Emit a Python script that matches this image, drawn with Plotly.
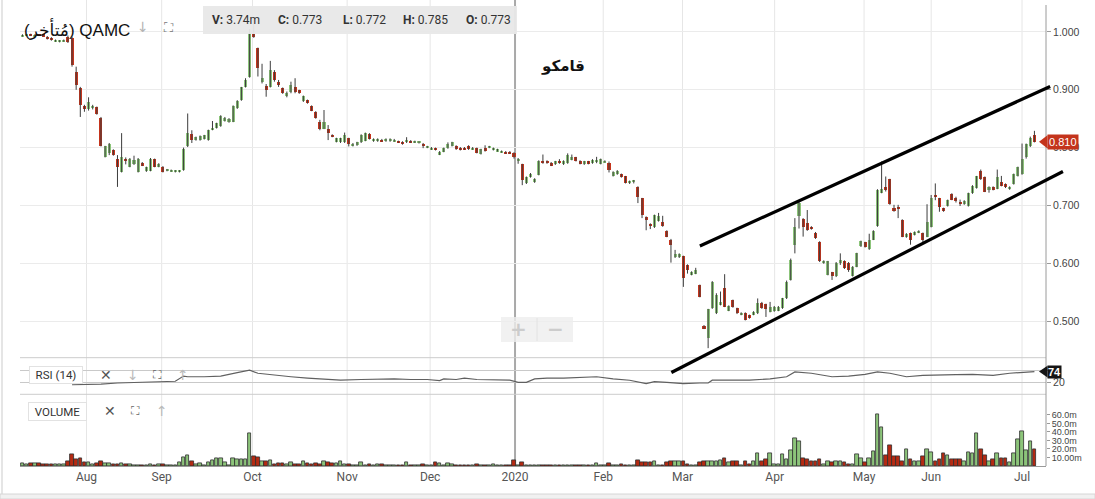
import plotly.graph_objects as go

W, H = 1095, 499

# ---------------- data ----------------
open_ = [
    0.993, 0.994, 0.996, 0.993, 0.995, 0.996, 0.992, 0.990, 0.984, 0.983,
    0.984, 0.992, 0.990, 0.931, 0.903, 0.872, 0.866, 0.868, 0.870, 0.852,
    0.784, 0.790, 0.796, 0.780, 0.758, 0.781, 0.767, 0.772, 0.758, 0.774,
    0.759, 0.760, 0.780, 0.767, 0.767, 0.760, 0.759, 0.758, 0.758, 0.761,
    0.803, 0.824, 0.813, 0.813, 0.815, 0.813, 0.831, 0.834, 0.837, 0.846,
    0.845, 0.845, 0.868, 0.882, 0.905, 0.923, 0.997, 0.972, 0.914, 0.906,
    0.905, 0.931, 0.914, 0.903, 0.889, 0.897, 0.905, 0.899, 0.880, 0.882,
    0.872, 0.862, 0.845, 0.833, 0.833, 0.822, 0.810, 0.809, 0.809, 0.816,
    0.803, 0.804, 0.809, 0.812, 0.824, 0.811, 0.811, 0.814, 0.811, 0.811,
    0.811, 0.811, 0.810, 0.809, 0.812, 0.809, 0.808, 0.807, 0.800, 0.797,
    0.799, 0.788, 0.793, 0.799, 0.803, 0.803, 0.800, 0.800, 0.802, 0.797,
    0.799, 0.789, 0.799, 0.800, 0.796, 0.794, 0.792, 0.793, 0.793, 0.790,
    0.776, 0.771, 0.738, 0.749, 0.740, 0.753, 0.777, 0.777, 0.774, 0.771,
    0.777, 0.771, 0.773, 0.779, 0.783, 0.777, 0.771, 0.776, 0.773, 0.776,
    0.772, 0.775, 0.773, 0.751, 0.754, 0.754, 0.750, 0.738, 0.741, 0.732,
    0.712, 0.680, 0.667, 0.662, 0.673, 0.672, 0.656, 0.641, 0.610, 0.610,
    0.612, 0.597, 0.580, 0.582, 0.562, 0.492, 0.470, 0.522, 0.513, 0.528,
    0.557, 0.518, 0.536, 0.522, 0.511, 0.514, 0.510, 0.511, 0.513, 0.532,
    0.529, 0.516, 0.517, 0.518, 0.522, 0.539, 0.571, 0.632, 0.681, 0.676,
    0.669, 0.663, 0.653, 0.637, 0.600, 0.580, 0.584, 0.577, 0.601, 0.604,
    0.601, 0.578, 0.594, 0.629, 0.636, 0.624, 0.641, 0.664, 0.722, 0.731,
    0.745, 0.696, 0.697, 0.675, 0.645, 0.652, 0.649, 0.653, 0.652, 0.646,
    0.663, 0.718, 0.712, 0.695, 0.699, 0.719, 0.712, 0.706, 0.702, 0.699,
    0.721, 0.730, 0.760, 0.749, 0.727, 0.732, 0.729, 0.741, 0.737, 0.728,
    0.737, 0.751, 0.754, 0.784, 0.802, 0.822,
]
close = [
    0.995, 0.995, 0.994, 0.995, 0.994, 0.993, 0.988, 0.986, 0.986, 0.985,
    0.986, 0.983, 0.943, 0.908, 0.874, 0.866, 0.879, 0.872, 0.858, 0.803,
    0.802, 0.806, 0.787, 0.767, 0.784, 0.777, 0.781, 0.779, 0.781, 0.769,
    0.766, 0.781, 0.767, 0.772, 0.758, 0.762, 0.761, 0.760, 0.760, 0.797,
    0.825, 0.814, 0.818, 0.820, 0.821, 0.830, 0.834, 0.842, 0.855, 0.852,
    0.850, 0.872, 0.881, 0.904, 0.917, 0.998, 0.992, 0.937, 0.920, 0.900,
    0.934, 0.917, 0.908, 0.894, 0.894, 0.908, 0.897, 0.894, 0.889, 0.877,
    0.864, 0.851, 0.833, 0.845, 0.825, 0.819, 0.816, 0.816, 0.822, 0.807,
    0.807, 0.809, 0.822, 0.825, 0.815, 0.815, 0.815, 0.811, 0.815, 0.815,
    0.814, 0.809, 0.806, 0.813, 0.809, 0.811, 0.810, 0.802, 0.802, 0.800,
    0.796, 0.793, 0.799, 0.807, 0.809, 0.797, 0.796, 0.797, 0.797, 0.800,
    0.791, 0.797, 0.794, 0.802, 0.799, 0.797, 0.794, 0.790, 0.790, 0.783,
    0.781, 0.744, 0.749, 0.755, 0.746, 0.777, 0.773, 0.773, 0.769, 0.776,
    0.773, 0.777, 0.787, 0.784, 0.777, 0.772, 0.776, 0.772, 0.779, 0.778,
    0.780, 0.777, 0.762, 0.758, 0.760, 0.749, 0.739, 0.742, 0.743, 0.715,
    0.683, 0.674, 0.665, 0.683, 0.682, 0.664, 0.646, 0.631, 0.616, 0.616,
    0.575, 0.588, 0.585, 0.589, 0.542, 0.487, 0.520, 0.568, 0.545, 0.533,
    0.525, 0.526, 0.524, 0.513, 0.514, 0.502, 0.505, 0.516, 0.532, 0.522,
    0.520, 0.525, 0.525, 0.525, 0.539, 0.568, 0.606, 0.663, 0.704, 0.663,
    0.657, 0.659, 0.643, 0.603, 0.604, 0.603, 0.577, 0.601, 0.605, 0.591,
    0.589, 0.594, 0.617, 0.638, 0.628, 0.640, 0.656, 0.727, 0.728, 0.727,
    0.702, 0.691, 0.695, 0.646, 0.651, 0.641, 0.654, 0.656, 0.641, 0.672,
    0.712, 0.714, 0.697, 0.692, 0.709, 0.710, 0.708, 0.702, 0.708, 0.721,
    0.734, 0.750, 0.745, 0.724, 0.732, 0.727, 0.749, 0.734, 0.731, 0.732,
    0.754, 0.766, 0.780, 0.806, 0.816, 0.810,
]
high = [
    0.996, 0.996, 0.997, 0.996, 0.996, 0.997, 0.993, 0.991, 0.987, 0.986,
    0.987, 0.994, 0.992, 0.940, 0.905, 0.874, 0.887, 0.874, 0.871, 0.853,
    0.803, 0.808, 0.797, 0.787, 0.825, 0.783, 0.782, 0.786, 0.782, 0.775,
    0.767, 0.782, 0.781, 0.773, 0.768, 0.763, 0.762, 0.761, 0.761, 0.800,
    0.859, 0.830, 0.819, 0.821, 0.822, 0.831, 0.846, 0.843, 0.856, 0.853,
    0.851, 0.873, 0.882, 0.905, 0.920, 1.005, 1.021, 0.973, 0.945, 0.910,
    0.950, 0.934, 0.917, 0.904, 0.897, 0.914, 0.920, 0.900, 0.890, 0.883,
    0.873, 0.863, 0.848, 0.865, 0.839, 0.823, 0.817, 0.817, 0.826, 0.817,
    0.808, 0.810, 0.823, 0.826, 0.825, 0.816, 0.816, 0.815, 0.816, 0.816,
    0.815, 0.812, 0.811, 0.818, 0.813, 0.812, 0.811, 0.808, 0.803, 0.801,
    0.800, 0.794, 0.800, 0.809, 0.810, 0.804, 0.801, 0.801, 0.804, 0.801,
    0.800, 0.798, 0.804, 0.803, 0.800, 0.798, 0.795, 0.794, 0.794, 0.792,
    0.782, 0.772, 0.750, 0.756, 0.747, 0.778, 0.788, 0.778, 0.775, 0.777,
    0.780, 0.778, 0.790, 0.788, 0.784, 0.778, 0.777, 0.777, 0.780, 0.784,
    0.781, 0.778, 0.776, 0.759, 0.761, 0.755, 0.751, 0.743, 0.744, 0.733,
    0.713, 0.681, 0.669, 0.684, 0.687, 0.682, 0.657, 0.642, 0.623, 0.617,
    0.613, 0.598, 0.586, 0.592, 0.563, 0.493, 0.521, 0.569, 0.548, 0.551,
    0.581, 0.527, 0.537, 0.523, 0.515, 0.515, 0.511, 0.517, 0.539, 0.533,
    0.530, 0.533, 0.526, 0.526, 0.540, 0.570, 0.608, 0.678, 0.706, 0.678,
    0.692, 0.664, 0.654, 0.638, 0.605, 0.604, 0.585, 0.602, 0.617, 0.605,
    0.602, 0.595, 0.618, 0.639, 0.637, 0.651, 0.657, 0.728, 0.776, 0.750,
    0.746, 0.701, 0.701, 0.676, 0.652, 0.653, 0.655, 0.657, 0.653, 0.702,
    0.718, 0.738, 0.713, 0.696, 0.710, 0.721, 0.715, 0.710, 0.709, 0.722,
    0.735, 0.751, 0.762, 0.750, 0.733, 0.733, 0.762, 0.751, 0.738, 0.733,
    0.755, 0.767, 0.807, 0.807, 0.819, 0.829,
]
low = [
    0.992, 0.993, 0.993, 0.992, 0.993, 0.992, 0.987, 0.985, 0.983, 0.982,
    0.983, 0.981, 0.940, 0.900, 0.853, 0.862, 0.864, 0.866, 0.857, 0.802,
    0.783, 0.787, 0.786, 0.732, 0.757, 0.771, 0.766, 0.770, 0.757, 0.768,
    0.758, 0.759, 0.766, 0.766, 0.757, 0.759, 0.758, 0.757, 0.757, 0.760,
    0.801, 0.808, 0.812, 0.812, 0.814, 0.812, 0.830, 0.833, 0.836, 0.845,
    0.843, 0.844, 0.867, 0.881, 0.904, 0.921, 0.990, 0.923, 0.911, 0.888,
    0.904, 0.914, 0.905, 0.893, 0.887, 0.894, 0.894, 0.893, 0.879, 0.876,
    0.863, 0.850, 0.830, 0.832, 0.813, 0.818, 0.809, 0.808, 0.808, 0.802,
    0.802, 0.803, 0.808, 0.811, 0.814, 0.810, 0.810, 0.810, 0.810, 0.810,
    0.810, 0.808, 0.805, 0.808, 0.808, 0.808, 0.807, 0.799, 0.799, 0.796,
    0.795, 0.787, 0.792, 0.798, 0.802, 0.796, 0.795, 0.796, 0.796, 0.796,
    0.790, 0.788, 0.793, 0.799, 0.795, 0.793, 0.791, 0.789, 0.789, 0.781,
    0.772, 0.735, 0.737, 0.748, 0.739, 0.752, 0.772, 0.772, 0.768, 0.770,
    0.772, 0.770, 0.772, 0.778, 0.776, 0.771, 0.770, 0.771, 0.772, 0.773,
    0.771, 0.774, 0.757, 0.750, 0.753, 0.748, 0.738, 0.737, 0.738, 0.704,
    0.678, 0.657, 0.659, 0.661, 0.672, 0.663, 0.645, 0.601, 0.609, 0.609,
    0.559, 0.582, 0.579, 0.581, 0.541, 0.486, 0.453, 0.521, 0.512, 0.527,
    0.524, 0.517, 0.523, 0.512, 0.510, 0.501, 0.504, 0.510, 0.512, 0.521,
    0.507, 0.515, 0.516, 0.517, 0.521, 0.538, 0.570, 0.617, 0.660, 0.646,
    0.656, 0.658, 0.642, 0.602, 0.599, 0.579, 0.571, 0.576, 0.597, 0.590,
    0.585, 0.577, 0.593, 0.628, 0.627, 0.623, 0.640, 0.663, 0.721, 0.724,
    0.701, 0.689, 0.678, 0.645, 0.644, 0.632, 0.648, 0.652, 0.634, 0.645,
    0.662, 0.709, 0.689, 0.689, 0.698, 0.709, 0.705, 0.699, 0.701, 0.698,
    0.720, 0.729, 0.744, 0.723, 0.722, 0.726, 0.728, 0.733, 0.730, 0.727,
    0.736, 0.750, 0.753, 0.781, 0.801, 0.809,
]
volume_m = [
    3, 2, 3, 3, 3, 2, 1.5, 1.5, 1.5, 1.5,
    2, 5, 14, 8, 9, 4, 4, 2, 3, 5,
    3, 3, 2, 2, 3, 2, 1.5, 1, 0.8, 0.8,
    0.8, 1.5, 1, 2, 2, 1, 0.8, 0.8, 4, 10,
    12, 5, 2, 3, 1, 4, 7, 9, 9, 4,
    1, 9, 8, 8, 8, 38, 11.5, 10, 5, 5,
    7, 2, 3, 3, 2, 4, 1.5, 2, 5, 3,
    2, 3, 2, 5, 4, 3, 3, 5, 2, 2,
    1, 1, 4.5, 1, 2.5, 1, 2, 1.5, 1, 1,
    1, 1, 1, 4.5, 1, 1, 1, 2.5, 1, 1,
    4.5, 3, 1, 3, 2.5, 1, 1, 1, 1, 1,
    2.5, 1, 1, 1, 2.5, 1, 0.5, 1, 1, 7,
    1, 4.5, 1, 1, 1, 1, 0.5, 0.5, 1, 0.5,
    1, 1, 1, 1, 0.5, 1, 1, 1, 1, 3,
    0.5, 1, 3, 0.5, 1, 1.5, 1, 0.5, 1, 7,
    4, 4, 4, 5, 1, 1, 4, 6, 5, 5,
    6, 2, 1, 1, 4, 5.5, 6, 6, 6, 7,
    9.5, 4, 5, 5, 1, 5.5, 2, 5, 15, 5,
    7.5, 15, 2.5, 2.5, 14, 8, 19, 33, 29, 9,
    7.5, 5.5, 6, 8, 2.5, 5, 4, 5.5, 6, 4,
    2.5, 2.5, 14, 9.5, 4, 9.5, 17, 61, 45, 12,
    24, 11, 11.5, 6, 20, 8, 5, 6, 11.5, 20,
    16.5, 6, 8, 15.5, 13, 7.5, 8, 8, 5, 16.5,
    15.5, 38, 20, 13, 6, 7.5, 14.5, 9.5, 8.5, 4,
    14.5, 31, 41, 18, 29, 20,
]
rsi_idx = [12, 15, 19, 23, 28, 33, 37, 39, 40, 44,
           48, 52, 55, 57, 61, 65, 69, 73, 77, 82,
           86, 90, 94, 98, 101, 102, 105, 107, 110, 115,
           118, 120, 122, 124, 127, 131, 135, 139, 143, 147,
           151, 153, 156, 160, 164, 166, 167, 172, 176, 181,
           185, 187, 191, 196, 200, 204, 207, 210, 214, 218,
           222, 226, 230, 235, 239, 243, 245]
rsi_val = [8.6, 8.6, 12.1, 17.2, 20.7, 25.9, 25.9, 51.7, 48.3, 48.3,
           51.7, 69, 81, 65.5, 55.2, 48.3, 41.4, 37.9, 31, 34.5,
           37.9, 37.9, 34.5, 34.5, 29.3, 37.9, 34.5, 41.4, 34.5, 34.5,
           31, 20.7, 20.7, 37.9, 41.4, 41.4, 44.8, 48.3, 37.9, 31,
           13.8, 24.1, 20.7, 13.8, 17.2, 17.2, 31, 29.3, 31, 37.9,
           48.3, 72.3, 65.5, 48.3, 51.7, 60.3, 72.3, 65.5, 48.3, 55.2,
           55.2, 58.6, 60.3, 55.2, 65.5, 68.9, 74]

month_pos = [15.5, 33.7, 55.7, 78.6, 98.7, 119.25, 140.6, 159.8, 182.1, 203.75, 220.0, 242.0]
month_lbl = ['Aug', 'Sep', 'Oct', 'Nov', 'Dec', '2020', 'Feb', 'Mar', 'Apr', 'May', 'Jun', 'Jul']
price_ticks = [0.5, 0.6, 0.7, 0.8, 0.9, 1.0]
vol_ticks = [10, 20, 30, 40, 50, 60]
vol_tick_lbl = ['10.00m', '20.0m', '30.0m', '40.0m', '50.0m', '60.0m']
rsi_ticks = [20, 80]
rsi_tick_lbl = ['20', '']

# drawn channel (trend lines): candle index, price
upper_i = [164.0, 248.8]
upper_p = [0.6298, 0.9057]
lower_i = [157.1, 251.9]
lower_p = [0.4109, 0.7587]

ticker = 'QAMC'
status = 'مُتأخر'
name_ar = 'قامكو'
tooltip_keys = ['V:', 'C:', 'L:', 'H:', 'O:']
tooltip_vals = ['3.74m', '0.773', '0.772', '0.785', '0.773']

# ---------------- layout constants ----------------
GREEN = '#8cc47a'
RED = '#c4341c'
WICK = '#3c3c3c'

L_PX, R_PX, T_PX, B_PX = 20, 1046, 5, 466
XR = [-0.6, 247.8]
PR = [0.4365, 1.0467]
RR = [-7.5, 142.5]
VR = [0, 84.2]


def fx(px):
    return (px - L_PX) / (R_PX - L_PX)


def fy(py):
    return (B_PX - py) / (B_PX - T_PX)


D_PRICE = [fy(357.7), 1.0]
D_RSI = [fy(388), fy(357.7)]
D_VOL = [0.0, fy(394.3)]


def data_x_paper(i):
    return (i - XR[0]) / (XR[1] - XR[0])


def price_paper(p):
    return D_PRICE[0] + (p - PR[0]) / (PR[1] - PR[0]) * (D_PRICE[1] - D_PRICE[0])


N = len(close)
idx = list(range(N))
inc = [i for i in idx if close[i] >= open_[i]]
dec = [i for i in idx if close[i] < open_[i]]
MINB = 0.0018

fig = go.Figure()

# wicks
wx, wy = [], []
for i in idx:
    wx += [i, i, None]
    wy += [low[i], high[i], None]
fig.add_trace(go.Scatter(x=wx, y=wy, mode='lines', line=dict(color=WICK, width=1),
                         hoverinfo='skip', xaxis='x', yaxis='y'))

for sel, col in ((inc, GREEN), (dec, RED)):
    fig.add_trace(go.Bar(
        x=sel,
        base=[min(open_[i], close[i]) for i in sel],
        y=[max(abs(close[i] - open_[i]), MINB) for i in sel],
        width=0.74, marker=dict(color=col, line=dict(width=0)),
        hoverinfo='skip', xaxis='x', yaxis='y'))

# RSI
fig.add_trace(go.Scatter(x=rsi_idx, y=rsi_val, mode='lines',
                         line=dict(color='#606060', width=1.2),
                         hoverinfo='skip', xaxis='x', yaxis='y2'))

# volume
for sel, col in ((inc, '#8cc47a'), (dec, '#b52a12')):
    fig.add_trace(go.Bar(
        x=sel, y=[volume_m[i] for i in sel], width=0.86,
        marker=dict(color=col, line=dict(color='#2d2d2d', width=0.8)),
        hoverinfo='skip', xaxis='x', yaxis='y3'))

shapes = []
# vertical month grid lines spanning all panels
for m, lbl in zip(month_pos, month_lbl):
    if lbl == '2020':
        shapes.append(dict(type='line', xref='x', yref='paper', x0=m, x1=m, y0=0, y1=fy(0),
                           line=dict(color='#a9a9a9', width=2), layer='below'))
    else:
        shapes.append(dict(type='line', xref='x', yref='paper', x0=m, x1=m, y0=0, y1=fy(0),
                           line=dict(color='#e6e6e6', width=1), layer='below'))
# panel separators
for yy in (357.7, 394.3):
    shapes.append(dict(type='line', xref='paper', yref='paper', x0=0, x1=1, y0=fy(yy), y1=fy(yy),
                       line=dict(color='#cccccc', width=1)))
# right axis line
shapes.append(dict(type='line', xref='paper', yref='paper', x0=1, x1=1, y0=0, y1=fy(5),
                   line=dict(color='#9a9a9a', width=1)))
# outer frame
shapes.append(dict(type='line', xref='paper', yref='paper', x0=fx(2), x1=fx(2), y0=fy(494), y1=fy(0),
                   line=dict(color='#dcdcdc', width=1.5)))
shapes.append(dict(type='rect', xref='paper', yref='paper', x0=fx(0), x1=fx(1095), y0=fy(499), y1=fy(494),
                   fillcolor='#f1f1f1', line=dict(color='#d6d6d6', width=1)))
# tooltip box
shapes.append(dict(type='rect', xref='paper', yref='paper', x0=fx(203), x1=fx(517), y0=fy(34), y1=fy(6),
                   fillcolor='rgba(232,232,232,0.95)', line=dict(width=0)))
# zoom control
shapes.append(dict(type='rect', xref='paper', yref='paper', x0=fx(501), x1=fx(573), y0=fy(342), y1=fy(317),
                   fillcolor='rgba(238,238,238,0.8)', line=dict(width=0)))
shapes.append(dict(type='line', xref='paper', yref='paper', x0=fx(537), x1=fx(537), y0=fy(341), y1=fy(318),
                   line=dict(color='#e2e2e2', width=1)))
# trend channel lines
for ii, pp in ((upper_i, upper_p), (lower_i, lower_p)):
    shapes.append(dict(type='line', xref='paper', yref='paper',
                       x0=data_x_paper(ii[0]), y0=price_paper(pp[0]),
                       x1=data_x_paper(ii[1]), y1=price_paper(pp[1]),
                       line=dict(color='black', width=3.2)))
# price tag arrow
last_p = close[-1]
shapes.append(dict(type='path', xref='paper', yref='y',
                   path=f'M {fx(1039)},{last_p} L {fx(1047.5)},{last_p + 0.0115} L {fx(1047.5)},{last_p - 0.0115} Z',
                   fillcolor='#c4341c', line=dict(width=0)))
last_r = rsi_val[-1]
shapes.append(dict(type='path', xref='paper', yref='y2',
                   path=f'M {fx(1039)},{last_r} L {fx(1047.5)},{last_r + 29} L {fx(1047.5)},{last_r - 29} Z',
                   fillcolor='#151515', line=dict(width=0)))


def ann(text, px, py, size, color, family='Roboto, Arial', xanchor='center', **kw):
    d = dict(text=text, x=fx(px), y=fy(py), xref='paper', yref='paper', showarrow=False,
             font=dict(size=size, color=color, family=family), xanchor=xanchor, yanchor='middle')
    d.update(kw)
    return d


LRM = '\u200e'
title_text = f'{LRM}({LRM}{status}{LRM}){LRM} {ticker}'

annotations = [
    ann(title_text, 22, 29, 17, '#111111', family='Liberation Sans, DejaVu Sans, Arial', xanchor='left'),
    ann('↓', 143, 27, 14, '#b3b3b3', family='DejaVu Sans'),
    ann('⛶', 168, 27, 13, '#777777', family='DejaVu Sans'),
    ann(f'<b>{name_ar}</b>', 563, 66, 15, '#111111', family='DejaVu Sans'),
]
tip_cx = [236, 300, 364, 425, 488]
for k, v, cx in zip(tooltip_keys, tooltip_vals, tip_cx):
    annotations.append(ann(f'<b>{k}</b> {v}', cx, 20, 12, '#333333'))

# indicator panel headers
annotations.append(ann('RSI (14)', 55.5, 374.5, 11.5, '#333333', bgcolor='white',
                       bordercolor='#e2e2e2', borderwidth=1, width=52, height=16, borderpad=0))
annotations.append(ann('✕', 106, 374.5, 14, '#555555', family='DejaVu Sans'))
annotations.append(ann('↓', 133, 374.5, 14, '#bbbbbb', family='DejaVu Sans'))
annotations.append(ann('⛶', 157, 374.5, 12, '#666666', family='DejaVu Sans'))
annotations.append(ann('↑', 183, 374.5, 14, '#bbbbbb', family='DejaVu Sans'))
annotations.append(ann('VOLUME', 57.7, 411.4, 11.5, '#333333', bgcolor='white',
                       bordercolor='#e2e2e2', borderwidth=1, width=57, height=17, borderpad=0))
annotations.append(ann('✕', 110, 411, 14, '#555555', family='DejaVu Sans'))
annotations.append(ann('⛶', 135, 411, 12, '#666666', family='DejaVu Sans'))
annotations.append(ann('↑', 162, 411, 14, '#bbbbbb', family='DejaVu Sans'))
# zoom buttons
annotations.append(ann('<b>+</b>', 518.5, 329, 20, '#cccccc', family='DejaVu Sans'))
annotations.append(ann('<b>−</b>', 555, 329, 20, '#cccccc', family='DejaVu Sans'))

# last value tags
annotations.append(dict(text=f'{last_p:.3f}', x=1, y=last_p, xref='paper', yref='y', showarrow=False,
                        xanchor='left', yanchor='middle', xshift=1,
                        font=dict(size=11, color='white', family='Liberation Sans, Arial'),
                        bgcolor='#c4341c', borderpad=1))
annotations.append(dict(text=f'<b>{last_r:.0f}</b>', x=1, y=last_r, xref='paper', yref='y2', showarrow=False,
                        xanchor='left', yanchor='middle', xshift=1,
                        font=dict(size=11, color='white', family='Liberation Sans, Arial'),
                        bgcolor='#151515', borderpad=0))

tickfont_r = dict(size=10.5, color='#444444', family='Liberation Sans, Arial')
tickfont_v = dict(size=9, color='#444444', family='Liberation Sans, Arial')

fig.update_layout(
    width=W, height=H,
    margin=dict(l=L_PX, r=W - R_PX, t=T_PX, b=H - B_PX),
    paper_bgcolor='white', plot_bgcolor='white',
    showlegend=False, barmode='overlay', bargap=0,
    xaxis=dict(domain=[0, 1], range=XR, anchor='y3', tickmode='array', tickvals=month_pos,
               ticktext=month_lbl, showgrid=False, zeroline=False, showline=True,
               linecolor='#9a9a9a', ticks='', tickfont=dict(size=12, color='#555555', family='Roboto, Arial')),
    yaxis=dict(domain=D_PRICE, range=PR, anchor='x', side='right', tickmode='array',
               tickvals=price_ticks, tickformat='.3f', showgrid=True, gridcolor='#ebebeb',
               zeroline=False, showline=False, ticks='outside', ticklen=4, tickcolor='#9a9a9a',
               tickfont=tickfont_r),
    yaxis2=dict(domain=D_RSI, range=RR, anchor='x', side='right', tickmode='array',
                tickvals=rsi_ticks, ticktext=rsi_tick_lbl, showgrid=True, gridcolor='#c9c9c9',
                zeroline=False, showline=False, ticks='outside', ticklen=4, tickcolor='#9a9a9a',
                tickfont=tickfont_r),
    yaxis3=dict(domain=D_VOL, range=VR, anchor='x', side='right', tickmode='array',
                tickvals=vol_ticks, ticktext=vol_tick_lbl, showgrid=False,
                zeroline=False, showline=False, ticks='outside', ticklen=3, tickcolor='#9a9a9a',
                tickfont=tickfont_v),
    shapes=shapes, annotations=annotations,
)

fig.write_html('out.html', config={'displayModeBar': False},
               post_script="document.body.style.margin='0px';document.body.style.overflow='hidden';")
